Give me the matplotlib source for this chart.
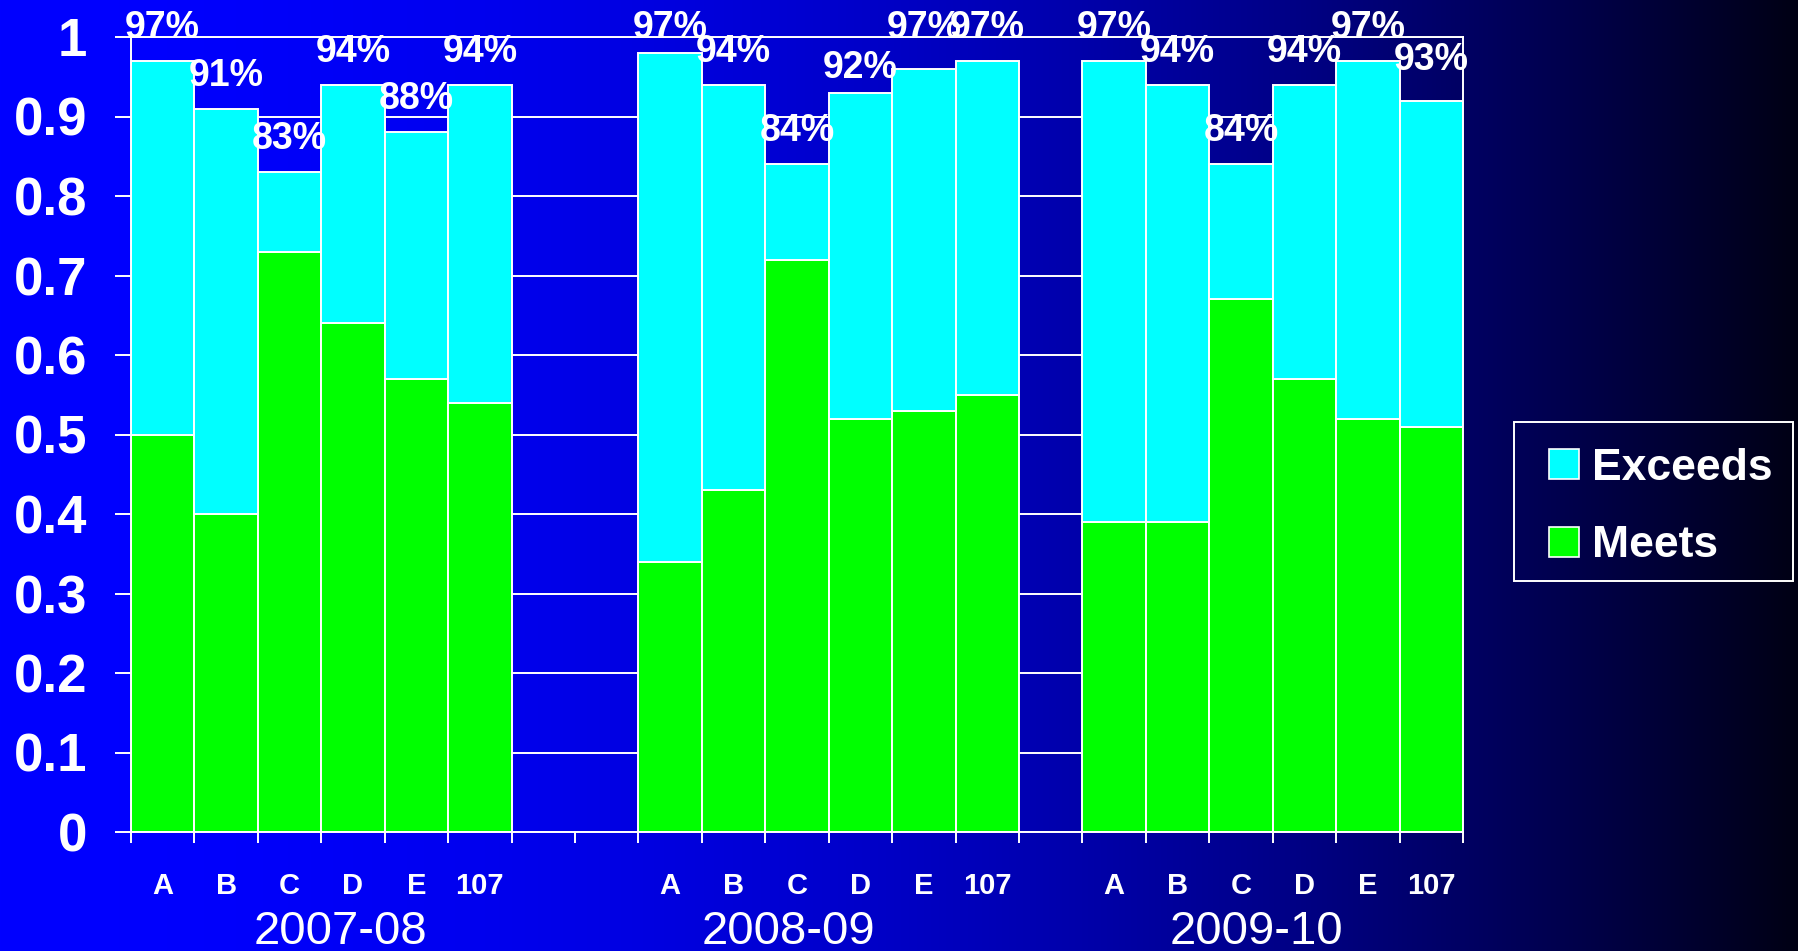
import numpy as np
import matplotlib
matplotlib.use('Agg')
import matplotlib.pyplot as plt
from matplotlib.lines import Line2D
from matplotlib.patches import Rectangle

plt.rcParams['font.family'] = ['Liberation Sans', 'DejaVu Sans']

# ---------------- data ----------------
years = ['2007-08', '2008-09', '2009-10']
schools = ['A', 'B', 'C', 'D', 'E', '107']

meets_0708 = [0.50, 0.40, 0.73, 0.64, 0.57, 0.54]
meets_0809 = [0.34, 0.43, 0.72, 0.52, 0.53, 0.55]
meets_0910 = [0.39, 0.39, 0.67, 0.57, 0.52, 0.51]

exceeds_0708 = [0.47, 0.51, 0.10, 0.30, 0.31, 0.40]
exceeds_0809 = [0.64, 0.51, 0.12, 0.41, 0.43, 0.42]
exceeds_0910 = [0.58, 0.55, 0.17, 0.37, 0.45, 0.41]

total_label_0708 = [0.97, 0.91, 0.83, 0.94, 0.88, 0.94]
total_label_0809 = [0.97, 0.94, 0.84, 0.92, 0.97, 0.97]
total_label_0910 = [0.97, 0.94, 0.84, 0.94, 0.97, 0.93]

meets_all = [meets_0708, meets_0809, meets_0910]
exceeds_all = [exceeds_0708, exceeds_0809, exceeds_0910]
labels_all = [total_label_0708, total_label_0809, total_label_0910]

# ---------------- layout ----------------
W, H = 1799, 951
group_start = [0, 8, 15]            # slot index of first bar in each group
group_label_x = [2.8, 9.86, 17.24]  # centre of year labels (slot units)
n_slots = 21

fig = plt.figure(figsize=(W / 100, H / 100), dpi=100)

# gradient background
bg = fig.add_axes([0, 0, 1, 1], zorder=-10)
t = np.linspace(0, 1, 600)
blue = (20 + 235 * (1 - t ** 2)) / 255.0
img = np.zeros((1, t.size, 3))
img[0, :, 2] = blue
bg.imshow(img, aspect='auto', extent=[0, 1, 0, 1], interpolation='bilinear')
bg.set_axis_off()

ax = fig.add_axes([131 / W, 1 - 832 / H, (1463 - 131) / W, (832 - 37) / H])
ax.set_facecolor('none')

GREEN = '#00FF00'
CYAN = '#00FFFF'
LW = 1.4

centers = []
for g, year in enumerate(years):
    xs = np.arange(len(schools)) + group_start[g]
    centers.extend(xs)
    ax.bar(xs, meets_all[g], width=1.0, color=GREEN, edgecolor='white', linewidth=LW, zorder=2)
    ax.bar(xs, exceeds_all[g], bottom=meets_all[g], width=1.0, color=CYAN,
           edgecolor='white', linewidth=LW, zorder=2)
    for x, v in zip(xs, labels_all[g]):
        ax.annotate(f'{v:.0%}', (x, v), xytext=(0, 16.5), textcoords='offset points',
                    ha='center', va='baseline', color='white', fontsize=27,
                    fontweight='bold', zorder=5, annotation_clip=False)
    ax.annotate(year, (group_label_x[g], 0), xycoords=('data', 'axes fraction'),
                xytext=(0, -112 * 0.72), textcoords='offset points',
                ha='center', va='baseline', color='white', fontsize=34,
                annotation_clip=False)

ax.set_xlim(-0.5, n_slots - 0.5)
ax.set_ylim(0, 1)

# grid
ax.yaxis.grid(True, color='white', linewidth=LW, zorder=0)
ax.set_axisbelow(True)

for s in ax.spines.values():
    s.set_color('white')
    s.set_linewidth(LW)

yt = np.round(np.arange(0, 1.01, 0.1), 1)
ax.set_yticks(yt)
ax.set_yticklabels(['0' if v == 0 else ('1' if v == 1 else f'{v:g}') for v in yt],
                   fontweight='bold')
ax.tick_params(axis='y', colors='white', labelcolor='white', length=11.5, width=LW,
               labelsize=38, pad=20)

ax.set_xticks(centers)
ax.set_xticklabels(schools * len(years), fontweight='bold')
ax.set_xticks(np.arange(-0.5, n_slots, 1.0), minor=True)
ax.tick_params(axis='x', which='major', length=0, labelcolor='white', labelsize=21, pad=29)
ax.tick_params(axis='x', which='minor', length=8, width=LW, color='white')

# legend
handles = [Line2D([], [], linestyle='none', marker='s', markersize=21.5,
                  markerfacecolor=CYAN, markeredgecolor='white', markeredgewidth=1.2),
           Line2D([], [], linestyle='none', marker='s', markersize=21.5,
                  markerfacecolor=GREEN, markeredgecolor='white', markeredgewidth=1.2)]
leg = fig.legend(handles, ['Exceeds', 'Meets'], loc='upper left',
                 bbox_to_anchor=(1514 / W, 1 - 422 / H), borderaxespad=0,
                 frameon=False,
                 prop={'size': 32, 'weight': 'bold'},
                 handlelength=1.1, handleheight=0.7, handletextpad=0.08,
                 borderpad=0.58, labelspacing=0.82)
for txt in leg.get_texts():
    txt.set_color('white')
fig.patches.append(Rectangle((1514 / W, 1 - 581 / H), (1793 - 1514) / W, (581 - 422) / H,
                             transform=fig.transFigure, fill=False,
                             edgecolor='white', linewidth=1.4))

fig.savefig('out.png', dpi=100)
